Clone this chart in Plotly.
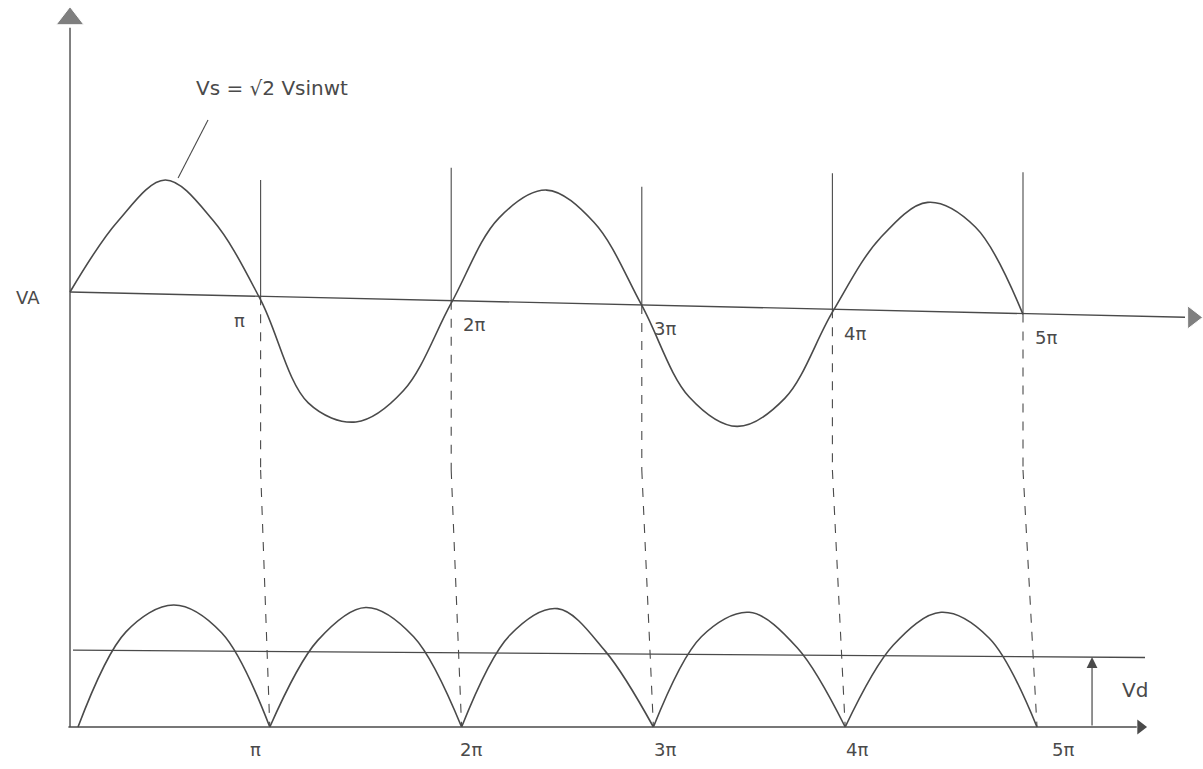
import plotly.graph_objects as go

# ---- data (x in multiples of pi) ----
vs_x = [0, 0.25, 0.5, 0.75, 1, 1.25, 1.5, 1.75, 2, 2.25, 2.5, 2.75, 3,
        3.25, 3.5, 3.75, 4, 4.25, 4.5, 4.75, 5]
vs_y = [0, 0.63, 1.0, 0.64, -0.07, -0.99, -1.16, -0.88, -0.10, 0.66, 0.91,
        0.62, -0.12, -0.94, -1.20, -0.95, -0.18, 0.48, 0.80, 0.58, -0.20]

arch_x = [0, 0.25, 0.5, 0.75, 1]
vd_arches = [
    [0, 0.78, 1.00, 0.77, 0],
    [0, 0.71, 0.98, 0.74, 0],
    [0, 0.75, 0.97, 0.62, 0],
    [0, 0.74, 0.94, 0.65, 0],
    [0, 0.67, 0.94, 0.73, 0],
]
vd_level = [0.63, 0.57]          # average output level (left end, right end)
guide_tops = [1.00, 1.11, 0.94, 1.06, 1.07]
axis_drift = -0.0385             # hand-drawn axis sag per pi
tick_vals = [1, 2, 3, 4, 5]
tick_text = ["π", "2π", "3π", "4π", "5π"]

INK = "#4a4a4a"
FONT = dict(family="DejaVu Sans", size=18, color=INK)

W = 1203
TOP_X = [-0.3673, 5.9444]
TOP_Y = [-1.5893, 2.6071]
BOT_X = [-0.4067, 5.8655]
BOT_Y = [-0.3443, 2.1066]
SPLIT = 0.3888


def top_to_bottom_x(v):
    """Convert a top-axis x value to the bottom axis' coordinates (same screen x)."""
    frac = (v - TOP_X[0]) / (TOP_X[1] - TOP_X[0])
    return BOT_X[0] + frac * (BOT_X[1] - BOT_X[0])


fig = go.Figure()


def line(x, y, ax="x", ay="y", width=1.4, dash="solid", shape="linear"):
    fig.add_trace(go.Scatter(x=x, y=y, xaxis=ax, yaxis=ay, mode="lines",
                             line=dict(color=INK, width=width, dash=dash, shape=shape),
                             hoverinfo="skip", showlegend=False))


# ---- top: supply voltage ----
x_end = 5.85
line([0, x_end], [0, axis_drift * x_end])                 # horizontal axis
line([0, 0], [2.36, TOP_Y[0]])                             # vertical axis
line(vs_x, vs_y, width=1.6, shape="spline")                # vs curve
for k, top in zip(tick_vals, guide_tops):
    line([k, k], [axis_drift * k, top], width=1.1)
    line([k, k], [axis_drift * k, TOP_Y[0]], width=1.1, dash="dash")
# pointer to the curve
line([0.567, 0.724], [1.018, 1.536], width=1.1)
# arrow heads
fig.add_trace(go.Scatter(x=[0, 5.89], y=[2.44, axis_drift * 5.89], mode="markers",
                         marker=dict(symbol=["triangle-up", "triangle-right"], size=[24, 20],
                                     color=INK),
                         xaxis="x", yaxis="y", hoverinfo="skip", showlegend=False))

# ---- bottom: rectified output ----
bx, by = [], []
for i, arch in enumerate(vd_arches):
    bx += [i + a for a in arch_x] + [None]
    by += arch + [None]
line(bx, by, ax="x2", ay="y2", width=1.6, shape="spline")
line([-0.05, 5.52], [0, 0], ax="x2", ay="y2")               # baseline
line([-0.026, 5.563], vd_level, ax="x2", ay="y2")          # average level
x_axis0 = top_to_bottom_x(0)
line([x_axis0, x_axis0], [BOT_Y[1], 0], ax="x2", ay="y2")   # vertical axis continues
for k in tick_vals:
    line([top_to_bottom_x(k), k], [BOT_Y[1], 0], ax="x2", ay="y2", width=1.1, dash="dash")
fig.add_trace(go.Scatter(x=[5.54], y=[0], mode="markers",
                         marker=dict(symbol="triangle-right", size=13, color=INK),
                         xaxis="x2", yaxis="y2", hoverinfo="skip", showlegend=False))

# Vd arrow
vd_x = 5.287
vd_top = vd_level[0] + (vd_level[1] - vd_level[0]) * (vd_x + 0.026) / 5.589
fig.add_annotation(x=vd_x, y=vd_top, ax=vd_x, ay=0, xref="x2", yref="y2",
                   axref="x2", ayref="y2", showarrow=True, arrowhead=2,
                   arrowsize=1.8, arrowwidth=1.2, arrowcolor=INK, text="")

annotations = []
# top tick labels
for k, t in zip(tick_vals, tick_text):
    left = k != 1
    annotations.append(dict(x=k, y=axis_drift * k, xref="x", yref="y", text=t,
                            showarrow=False, font=FONT,
                            xanchor="left" if left else "right",
                            xshift=10 if left else -14, yshift=-24))
# bottom tick labels
bot_nudge = [-14, 9, 12, 12, 26]
for k, t, n in zip(tick_vals, tick_text, bot_nudge):
    annotations.append(dict(x=k, y=0, xref="x2", yref="y2", text=t, showarrow=False,
                            font=FONT, xshift=n, yshift=-22))
annotations += [
    dict(x=1.06, y=1.82, xref="x", yref="y", text="Vs = √2 Vsinwt", showarrow=False,
         font=dict(family="DejaVu Sans", size=20, color=INK)),
    dict(x=-0.22, y=-0.045, xref="x", yref="y", text="VA", showarrow=False,
         font=dict(family="DejaVu Sans", size=18, color=INK)),
    dict(x=5.51, y=0.30, xref="x2", yref="y2", text="Vd", showarrow=False,
         font=dict(family="DejaVu Sans", size=20, color=INK)),
]
for a in annotations:
    fig.add_annotation(**a)

ax_common = dict(visible=False, fixedrange=True)
fig.update_layout(
    width=W, height=769,
    margin=dict(l=0, r=0, t=0, b=0),
    paper_bgcolor="white", plot_bgcolor="white",
    xaxis=dict(range=TOP_X, anchor="y", **ax_common),
    yaxis=dict(range=TOP_Y, domain=[SPLIT, 1], anchor="x", **ax_common),
    xaxis2=dict(range=BOT_X, anchor="y2", **ax_common),
    yaxis2=dict(range=BOT_Y, domain=[0, SPLIT], anchor="x2", **ax_common),
    showlegend=False,
)

fig.write_html("out.html", config={"displayModeBar": False},
               post_script="document.body.style.margin='0';document.body.style.overflow='hidden';")
